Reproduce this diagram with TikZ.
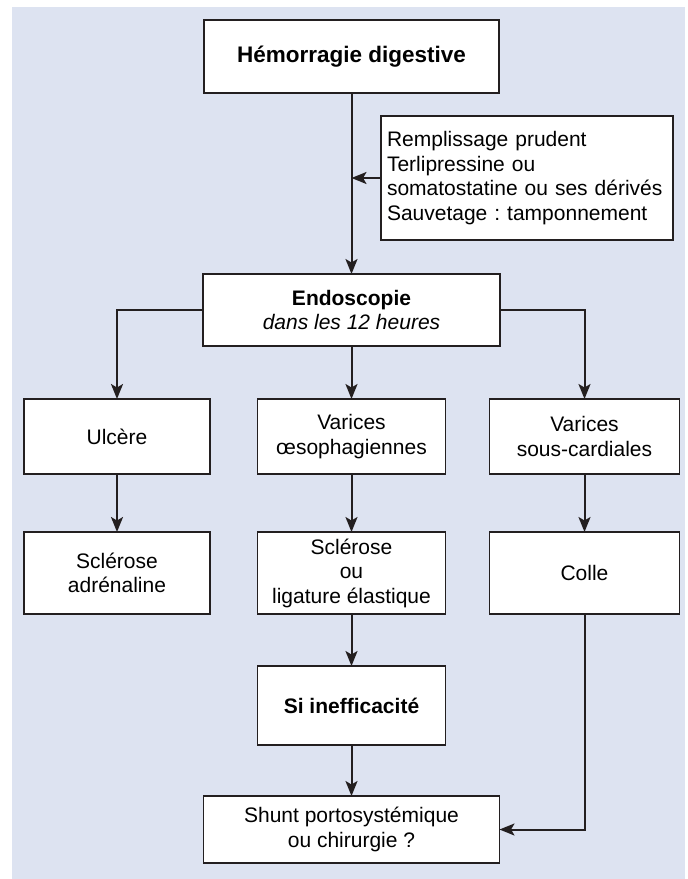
\documentclass[tikz,border=0pt]{standalone}
\usepackage{fontspec}
\setmainfont{Liberation Sans}
\usepackage{tikz}
\usetikzlibrary{
	arrows.meta,
	backgrounds,
	positioning,
	}
\definecolor{panelblue}{RGB}{221,227,241}
\definecolor{inkgray}{RGB}{35,31,32}
\frenchspacing

\begin{document}
\begin{tikzpicture}[x=1pt,y=-1pt,
	stage/.style={draw=inkgray,line width=1.5pt,fill=white,shape=rectangle,align=center,inner sep=4pt,outer sep=0pt,font=\fontsize{21}{24.5}\selectfont},
	link/.style={draw=inkgray,line width=2pt,-{Stealth[length=15pt,width=12pt,inset=3.5pt]}}]
\useasboundingbox (0,0) rectangle (688,879);
\node[stage,minimum width=295pt,minimum height=73pt,font=\fontsize{22.5}{26}\selectfont] (hd) at (351.5,56.5) {\textbf{Hémorragie digestive}};
\node[stage,align=left,minimum width=292pt,minimum height=124pt,text width=280pt,inner xsep=6pt] (tt) at (527,178) {Remplissage prudent\\Terlipressine ou\\somatostatine ou ses dérivés\\Sauvetage : tamponnement};
\node[stage,minimum width=297pt,minimum height=72pt] (endo) at (351.5,310) {\textbf{Endoscopie}\\\textit{dans les 12 heures}};
\node[stage,minimum width=186pt,minimum height=75pt] (ulc) at (117,436.5) {Ulcère};
\node[stage,minimum width=188pt,minimum height=75pt] (vo) at (351.5,436.5) {Varices\\œsophagiennes};
\node[stage,minimum width=190pt,minimum height=75pt] (vsc) at (584.5,436.5) {Varices\\sous-cardiales};
\node[stage,minimum width=186pt,minimum height=82pt] (scl) at (117,573) {Sclérose\\adrénaline};
\node[stage,minimum width=188pt,minimum height=82pt] (lig) at (351.5,573) {Sclérose\\ou\\ligature élastique};
\node[stage,minimum width=190pt,minimum height=82pt] (colle) at (584.5,573) {Colle};
\node[stage,minimum width=188pt,minimum height=79pt] (ineff) at (351.5,705.5) {\textbf{Si inefficacité}};
\node[stage,minimum width=296pt,minimum height=67pt] (shunt) at (351.5,829.5) {Shunt portosystémique\\ou chirurgie ?};
\begin{scope}[on background layer]
\fill[panelblue] (12,7) rectangle (685,879);
\draw[link] (hd) -- (endo);
\draw[link] (tt.west) -- (tt.west -| hd.south);
\draw[link] (endo.west) -| (ulc.north);
\draw[link] (endo) -- (vo);
\draw[link] (endo.east) -| (vsc.north);
\draw[link] (ulc) -- (scl);
\draw[link] (vo) -- (lig);
\draw[link] (vsc) -- (colle);
\draw[link] (lig) -- (ineff);
\draw[link] (ineff) -- (shunt);
\draw[link] (colle.south) |- (shunt.east);
\end{scope}
\end{tikzpicture}
\end{document}
